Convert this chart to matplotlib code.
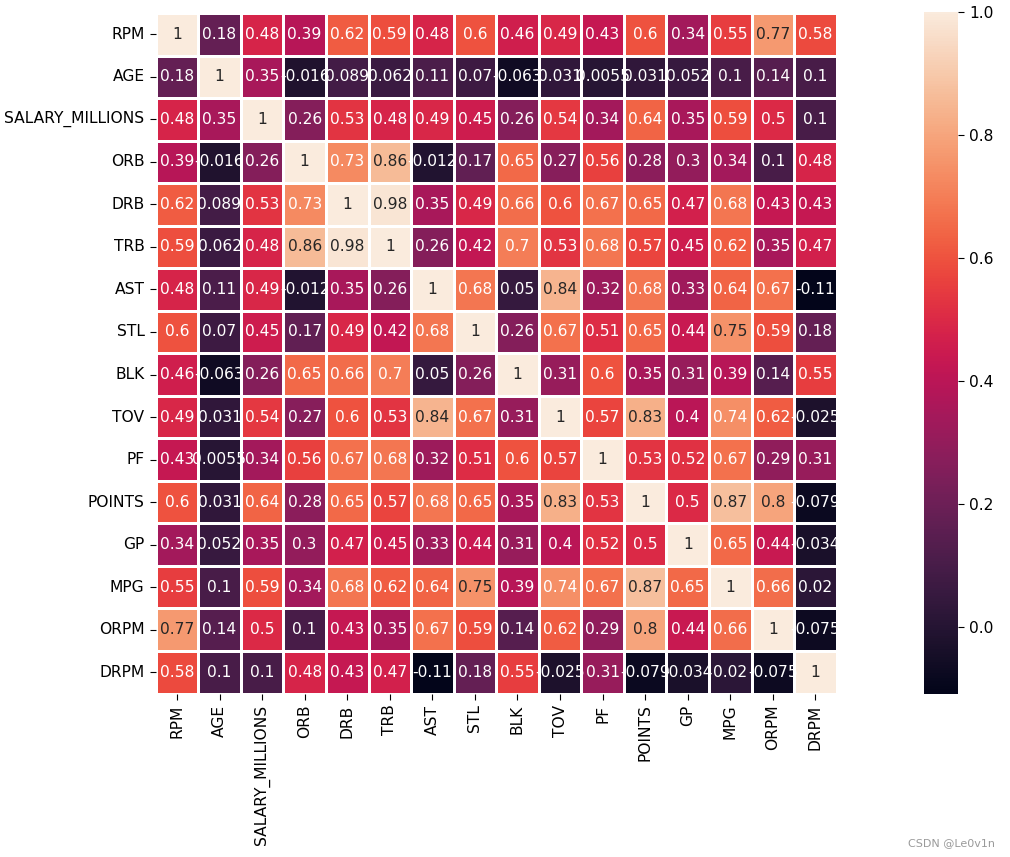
import numpy as np
import pandas as pd
import matplotlib
matplotlib.use('agg')
import matplotlib.pyplot as plt
import seaborn as sns

labels = ['RPM', 'AGE', 'SALARY_MILLIONS', 'ORB', 'DRB', 'TRB', 'AST', 'STL',
          'BLK', 'TOV', 'PF', 'POINTS', 'GP', 'MPG', 'ORPM', 'DRPM']

rpm    = [1, 0.18, 0.48, 0.39, 0.62, 0.59, 0.48, 0.6, 0.46, 0.49, 0.43, 0.6, 0.34, 0.55, 0.77, 0.58]
age    = [0.18, 1, 0.35, -0.016, 0.089, 0.062, 0.11, 0.07, -0.063, 0.031, 0.0055, 0.031, 0.052, 0.1, 0.14, 0.1]
salary = [0.48, 0.35, 1, 0.26, 0.53, 0.48, 0.49, 0.45, 0.26, 0.54, 0.34, 0.64, 0.35, 0.59, 0.5, 0.1]
orb    = [0.39, -0.016, 0.26, 1, 0.73, 0.86, -0.012, 0.17, 0.65, 0.27, 0.56, 0.28, 0.3, 0.34, 0.1, 0.48]
drb    = [0.62, 0.089, 0.53, 0.73, 1, 0.98, 0.35, 0.49, 0.66, 0.6, 0.67, 0.65, 0.47, 0.68, 0.43, 0.43]
trb    = [0.59, 0.062, 0.48, 0.86, 0.98, 1, 0.26, 0.42, 0.7, 0.53, 0.68, 0.57, 0.45, 0.62, 0.35, 0.47]
ast    = [0.48, 0.11, 0.49, -0.012, 0.35, 0.26, 1, 0.68, 0.05, 0.84, 0.32, 0.68, 0.33, 0.64, 0.67, -0.11]
stl    = [0.6, 0.07, 0.45, 0.17, 0.49, 0.42, 0.68, 1, 0.26, 0.67, 0.51, 0.65, 0.44, 0.75, 0.59, 0.18]
blk    = [0.46, -0.063, 0.26, 0.65, 0.66, 0.7, 0.05, 0.26, 1, 0.31, 0.6, 0.35, 0.31, 0.39, 0.14, 0.55]
tov    = [0.49, 0.031, 0.54, 0.27, 0.6, 0.53, 0.84, 0.67, 0.31, 1, 0.57, 0.83, 0.4, 0.74, 0.62, -0.025]
pf     = [0.43, 0.0055, 0.34, 0.56, 0.67, 0.68, 0.32, 0.51, 0.6, 0.57, 1, 0.53, 0.52, 0.67, 0.29, 0.31]
points = [0.6, 0.031, 0.64, 0.28, 0.65, 0.57, 0.68, 0.65, 0.35, 0.83, 0.53, 1, 0.5, 0.87, 0.8, -0.079]
gp     = [0.34, 0.052, 0.35, 0.3, 0.47, 0.45, 0.33, 0.44, 0.31, 0.4, 0.52, 0.5, 1, 0.65, 0.44, -0.034]
mpg    = [0.55, 0.1, 0.59, 0.34, 0.68, 0.62, 0.64, 0.75, 0.39, 0.74, 0.67, 0.87, 0.65, 1, 0.66, 0.02]
orpm   = [0.77, 0.14, 0.5, 0.1, 0.43, 0.35, 0.67, 0.59, 0.14, 0.62, 0.29, 0.8, 0.44, 0.66, 1, -0.075]
drpm   = [0.58, 0.1, 0.1, 0.48, 0.43, 0.47, -0.11, 0.18, 0.55, -0.025, 0.31, -0.079, -0.034, 0.02, -0.075, 1]

rows = [rpm, age, salary, orb, drb, trb, ast, stl, blk, tov, pf, points, gp, mpg, orpm, drpm]
corr = pd.DataFrame(rows, index=labels, columns=labels)

fs = 11.2
W, H = 1010, 857
fig = plt.figure(figsize=(W / 100, H / 100), dpi=100)
ax = fig.add_axes([155.7 / W, 1 - 693.5 / H, 681 / W, 680.5 / H])
cax = fig.add_axes([924.3 / W, 1 - 694.3 / H, 34 / W, 682.6 / H])

sns.heatmap(corr, annot=True, annot_kws={'size': fs}, linewidths=1,
            ax=ax, cbar_ax=cax)
ax.set_xticklabels(labels, rotation=90, fontsize=fs)
ax.set_yticklabels(labels, rotation=0, fontsize=fs)
ax.tick_params(length=4.5)
cax.set_yticks([0.0, 0.2, 0.4, 0.6, 0.8, 1.0])
cax.tick_params(labelsize=fs, length=4.5)

fig.text(995 / W, 1 - 843 / H, 'CSDN @Le0v1n', ha='right', va='center',
         fontsize=8, color='#9a9a9a')

plt.savefig('out.png', dpi=100)
plt.close()
